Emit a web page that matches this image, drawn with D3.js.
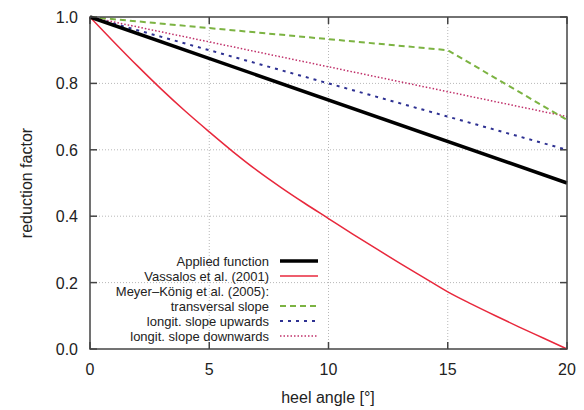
<!DOCTYPE html>
<html>
<head>
<meta charset="utf-8">
<script src="https://cdn.jsdelivr.net/npm/d3@7"></script>
<style>
  body { margin: 0; background: #fff; }
  svg { font-family: "Liberation Sans", Arial, sans-serif; }
</style>
</head>
<body>
<svg id="chart" width="584" height="410"></svg>
<script>
// heel angle samples
const angles = [0, 1, 2, 3, 4, 5, 6, 7, 8, 9, 10, 11, 12, 13, 14, 15, 16, 17, 18, 19, 20]
const vassalos = [1, 0.925, 0.852, 0.782, 0.716, 0.654, 0.594, 0.538, 0.487, 0.439, 0.393, 0.347, 0.302, 0.258, 0.215, 0.172, 0.135, 0.1, 0.066, 0.033, 0]
const appliedX = [0, 20]
const applied = [1, 0.5]
const transX = [0, 15, 20]
const transversal = [1, 0.9, 0.69]
const upX = [0, 20]
const upwards = [1, 0.6]
const downX = [0, 20]
const downwards = [1, 0.7]
const xTicks = [0, 5, 10, 15, 20]
const yTicks = [0, 0.2, 0.4, 0.6, 0.8, 1.0]

const legendNames = ["Applied function", "Vassalos et al. (2001)", "Meyer\u2013König et al. (2005):",
  "transversal slope", "longit. slope upwards", "longit. slope downwards"]

var svg = d3.select("#chart")
var pLeft = 90, pRight = 567, pTop = 17, pBottom = 349

var x = d3.scaleLinear().domain([0, 20]).range([pLeft, pRight])
var y = d3.scaleLinear().domain([0, 1]).range([pBottom, pTop])

// grid
var grid = svg.append("g").attr("stroke", "#b8b8b8").attr("stroke-width", 1).attr("stroke-dasharray", "1,2")
xTicks.slice(1, -1).forEach(t => {
  grid.append("line").attr("x1", x(t)).attr("x2", x(t)).attr("y1", pBottom).attr("y2", pTop)
})
yTicks.slice(1, -1).forEach(t => {
  grid.append("line").attr("x1", pLeft).attr("x2", pRight).attr("y1", y(t)).attr("y2", y(t))
})

// ticks (inward, mirrored)
var tk = svg.append("g").attr("stroke", "#444").attr("stroke-width", 1.5)
xTicks.forEach(t => {
  tk.append("line").attr("x1", x(t)).attr("x2", x(t)).attr("y1", pBottom).attr("y2", pBottom - 7)
  tk.append("line").attr("x1", x(t)).attr("x2", x(t)).attr("y1", pTop).attr("y2", pTop + 7)
})
yTicks.forEach(t => {
  tk.append("line").attr("x1", pLeft).attr("x2", pLeft + 7).attr("y1", y(t)).attr("y2", y(t))
  tk.append("line").attr("x1", pRight).attr("x2", pRight - 7).attr("y1", y(t)).attr("y2", y(t))
})

svg.selectAll(".xl").data(xTicks).enter().append("text")
  .attr("x", d => x(d)).attr("y", 375).attr("text-anchor", "middle")
  .attr("font-size", 16).attr("fill", "#222").text(d => d)
svg.selectAll(".yl").data(yTicks).enter().append("text")
  .attr("x", 78).attr("y", d => y(d) + 6).attr("text-anchor", "end")
  .attr("font-size", 16).attr("fill", "#222").text(d => d3.format(".1f")(d))

svg.append("text").attr("x", 328).attr("y", 403).attr("text-anchor", "middle")
  .attr("font-size", 16).attr("fill", "#222").text("heel angle [°]")
svg.append("text").attr("transform", "translate(32,183) rotate(-90)").attr("text-anchor", "middle")
  .attr("font-size", 16).attr("fill", "#222").text("reduction factor")

var line = d3.line().x(d => x(d[0])).y(d => y(d[1]))
var smooth = d3.line().x(d => x(d[0])).y(d => y(d[1])).curve(d3.curveMonotoneX)
var series = [
  { xs: appliedX, ys: applied, color: "#000", w: 3.5, dash: null },
  { xs: angles, ys: vassalos, color: "#e8283c", w: 1.5, dash: null, smooth: true },
  { xs: transX, ys: transversal, color: "#7cb342", w: 2, dash: "6,4" },
  { xs: upX, ys: upwards, color: "#2e3192", w: 2, dash: "3,5" },
  { xs: downX, ys: downwards, color: "#c0306a", w: 1.5, dash: "1.5,2" }
]
var plotted = svg.append("g")
// draw the thin lines first, thick applied line on top
;[4, 3, 2, 1, 0].forEach(i => {
  var s = series[i]
  plotted.append("path")
    .datum(d3.zip(s.xs, s.ys))
    .attr("fill", "none").attr("stroke", s.color).attr("stroke-width", s.w)
    .attr("stroke-dasharray", s.dash).attr("d", s.smooth ? smooth : line)
})

// frame
svg.append("rect").attr("x", pLeft).attr("y", pTop).attr("width", pRight - pLeft).attr("height", pBottom - pTop)
  .attr("fill", "none").attr("stroke", "#444").attr("stroke-width", 1.5)

// legend
var lg = svg.append("g")
var legendSeries = [series[0], series[1], null, series[2], series[3], series[4]]
legendNames.forEach((name, i) => {
  var yy = 261 + i * 15
  lg.append("text").attr("x", 269).attr("y", yy + 4.5).attr("text-anchor", "end")
    .attr("font-size", 13).attr("fill", "#222").text(name)
  var s = legendSeries[i]
  if (s) {
    lg.append("line").attr("x1", 280).attr("x2", 318).attr("y1", yy).attr("y2", yy)
      .attr("stroke", s.color).attr("stroke-width", s.w).attr("stroke-dasharray", s.dash)
  }
})
</script>
</body>
</html>
